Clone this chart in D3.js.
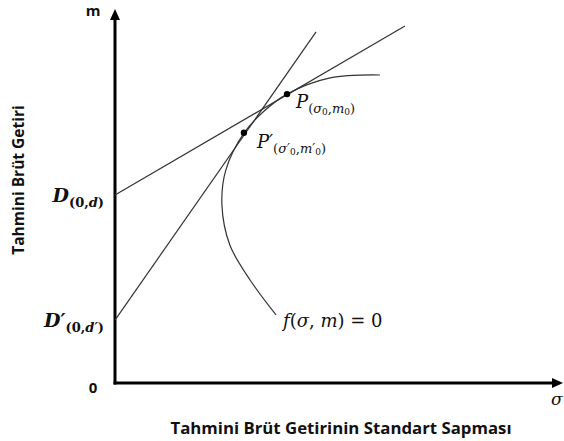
<html>
<head>
  <meta charset="utf8">
  <title>Etkin sınır</title>
  <style>
  * { margin: 0; padding: 0; }
  body { background: #fff; }
  .axis-title { font-family: "Open Sans", sans-serif; font-weight: bold; font-size: 16.8px; fill: #111; }
  .math { font-family: "DejaVu Serif", serif; fill: #111; }
  .curve, .tangent { fill: none; stroke: #333; stroke-width: 1.2px; }
  </style>
</head>
<body>
<script src="https://cdn.jsdelivr.net/npm/d3@7"></script>
<script>
// f(sigma, m) = 0 egrisi (sigma, m), keyfi birimler
var curveSigma = [36.6, 30.7, 26.1, 24.3, 25.2, 29.3, 33.9, 39.1, 48.9, 60.2];
var curveM     = [18.5, 28.0, 37.5, 48.4, 57.9, 67.9, 73.9, 78.5, 82.9, 83.7];

// teget dogrular: [sigma, m] baslangic ve bitis
var tangentNames = ["D", "D'"];
var tangentStart = [[0, 51.1], [0, 17.1]];
var tangentEnd   = [[65.9, 97.0], [45.7, 95.4]];

// teget noktalari
var pointNames = ["P", "P'"];
var pointSigma = [39.1, 29.3];
var pointM     = [78.5, 68.0];

var W = 564, H = 441;
var x = d3.scaleLinear().domain([0, 100]).range([115, 555]);
var y = d3.scaleLinear().domain([0, 100]).range([383, 15]);

var svg = d3.select("body").append("svg")
  .attr("width", W).attr("height", H)
  .attr("viewBox", `0 0 ${W} ${H}`);

// eksenler
svg.append("line")
  .attr("x1", x(0)).attr("y1", y(0) + 1.5)
  .attr("x2", x(0)).attr("y2", y(100) + 2)
  .attr("stroke", "#000").attr("stroke-width", 3);
svg.append("line")
  .attr("x1", x(0) - 1.5).attr("y1", y(0))
  .attr("x2", x(100) - 1).attr("y2", y(0))
  .attr("stroke", "#000").attr("stroke-width", 3);
svg.append("path")
  .attr("d", `M${x(0)},${y(100) - 6}L${x(0) - 5},${y(100) + 5}L${x(0) + 5},${y(100) + 5}Z`)
  .attr("fill", "#000");
svg.append("path")
  .attr("d", `M${x(100) + 8},${y(0)}L${x(100) - 3},${y(0) - 5}L${x(100) - 3},${y(0) + 5}Z`)
  .attr("fill", "#000");

// eksen etiketleri
svg.append("text").attr("class", "axis-title")
  .attr("x", x(0) - 22).attr("y", y(100) + 1).attr("text-anchor", "middle")
  .style("font-size", "15px").text("m");
svg.append("text").attr("class", "axis-title")
  .attr("x", x(0) - 22).attr("y", y(0) + 10).attr("text-anchor", "middle")
  .style("font-size", "15px").text("0");
svg.append("text").attr("class", "math")
  .attr("x", x(100) - 4).attr("y", y(0) + 22)
  .style("font-style", "italic").style("font-size", "17px").text("σ");
svg.append("text").attr("class", "axis-title")
  .attr("transform", `translate(24,${180}) rotate(-90)`)
  .attr("text-anchor", "middle").style("font-size", "15.5px").text("Tahmini Brüt Getiri");
svg.append("text").attr("class", "axis-title")
  .attr("x", 341).attr("y", 434).attr("text-anchor", "middle")
  .text("Tahmini Brüt Getirinin Standart Sapması");

// teget dogrular
svg.selectAll(".tangent")
  .data(tangentNames)
  .enter().append("line")
  .attr("class", "tangent")
  .attr("x1", (d, i) => x(tangentStart[i][0]))
  .attr("y1", (d, i) => y(tangentStart[i][1]))
  .attr("x2", (d, i) => x(tangentEnd[i][0]))
  .attr("y2", (d, i) => y(tangentEnd[i][1]));

// egri
var line = d3.line()
  .x(d => x(d[0])).y(d => y(d[1]))
  .curve(d3.curveCatmullRom.alpha(0.5));
svg.append("path").attr("class", "curve")
  .attr("d", line(d3.zip(curveSigma, curveM)));

// noktalar
svg.selectAll(".pt")
  .data(pointNames)
  .enter().append("circle")
  .attr("class", "pt")
  .attr("cx", (d, i) => x(pointSigma[i]))
  .attr("cy", (d, i) => y(pointM[i]))
  .attr("r", 3.2).attr("fill", "#000");

// D etiketleri
function dLabel(yy, prime) {
  var t = svg.append("text").attr("class", "math")
    .attr("x", x(0) - 11).attr("y", yy).attr("text-anchor", "end")
    .style("font-weight", "bold");
  t.append("tspan").style("font-style", "italic").style("font-size", "19px").text(prime ? "D′" : "D");
  var s = t.append("tspan").attr("dy", 5).style("font-size", "13px");
  s.append("tspan").text("(0,");
  s.append("tspan").style("font-style", "italic").text(prime ? "d′" : "d");
  s.append("tspan").text(")");
}
dLabel(y(tangentStart[0][1]) + 7, false);
dLabel(y(tangentStart[1][1]) + 7, true);

// P etiketleri
function pLabel(px, py, prime) {
  var t = svg.append("text").attr("class", "math")
    .attr("x", px).attr("y", py);
  t.append("tspan").style("font-style", "italic").style("font-size", "18px").text(prime ? "P′" : "P");
  var s = t.append("tspan").attr("dy", 5).style("font-size", "13px");
  s.append("tspan").text("(");
  s.append("tspan").style("font-style", "italic").text(prime ? "σ′" : "σ");
  s.append("tspan").attr("dy", 2).style("font-size", "9px").text("0");
  s.append("tspan").attr("dy", -2).text(",");
  s.append("tspan").style("font-style", "italic").text(prime ? "m′" : "m");
  s.append("tspan").attr("dy", 2).style("font-size", "9px").text("0");
  s.append("tspan").attr("dy", -2).text(")");
}
pLabel(x(pointSigma[0]) + 9, y(pointM[0]) + 14, false);
pLabel(x(pointSigma[1]) + 13, y(pointM[1]) + 15, true);

// f(sigma, m) = 0
var f = svg.append("text").attr("class", "math")
  .attr("x", x(curveSigma[0]) + 7).attr("y", y(curveM[0]) + 12)
  .style("font-size", "18px");
f.append("tspan").style("font-style", "italic").text("f");
f.append("tspan").text("(");
f.append("tspan").style("font-style", "italic").text("σ");
f.append("tspan").text(", ");
f.append("tspan").style("font-style", "italic").text("m");
f.append("tspan").text(") = 0");
</script>
</body>
</html>
